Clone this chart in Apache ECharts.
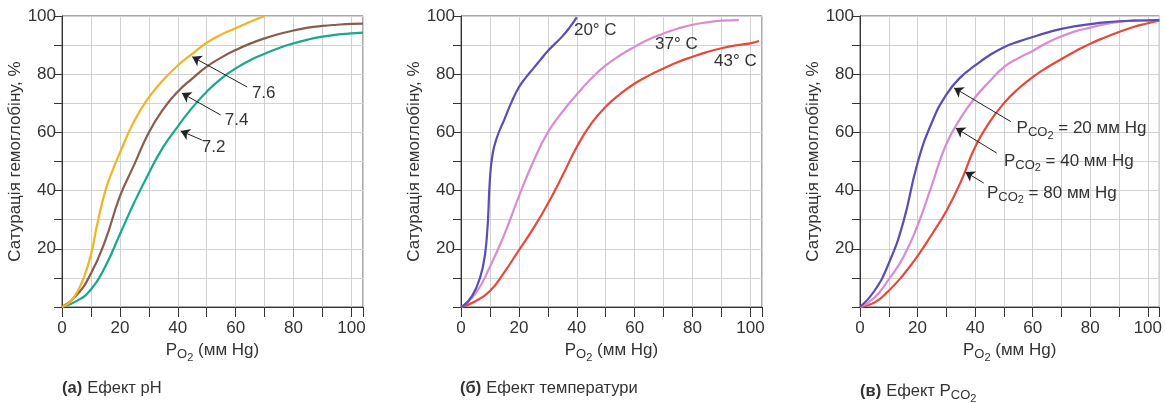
<!DOCTYPE html>
<html>
<head>
<meta charset="utf-8">
<title>Криві дисоціації оксигемоглобіну</title>
<script src="https://cdn.jsdelivr.net/npm/echarts@6/dist/echarts.min.js"></script>
<style>
  html, body { margin: 0; padding: 0; background: #fff; }
  #chart { width: 1165px; height: 403px; }
</style>
</head>
<body>
<div id="chart"></div>
<script>
// (а) ефект pH
const ph76_x = [0, 2.5, 5, 7.5, 10, 12.5, 15, 17.5, 20, 25, 30, 35, 40, 45, 50, 55, 60, 65, 70]
const ph76_y = [0, 1.5, 4.7, 10, 18, 30, 40, 47, 53, 64, 72, 78, 83, 87, 90.8, 93.6, 95.8, 98, 100]
const ph_x = [0, 5, 10, 15, 20, 25, 30, 35, 40, 45, 50, 55, 60, 65, 70, 75, 80, 85, 90, 95, 100, 104]
const ph74_y = [0, 4, 11.5, 23, 38, 49, 60, 68, 74, 78.5, 82.6, 85.7, 88.3, 90.5, 92.3, 93.8, 95, 96, 96.6, 97, 97.3, 97.4]
const ph72_y = [0, 2, 6, 14, 25, 36, 46, 55, 62, 68.5, 74, 78.5, 82, 84.8, 87, 89, 90.6, 91.9, 92.9, 93.6, 94, 94.3]

// (б) ефект температури
const t20_x = [0, 2.5, 5, 7.5, 9, 10, 11, 12.5, 15, 17.5, 20, 22.5, 25, 27.5, 30, 32.5, 35, 37.5, 40]
const t20_y = [0, 2, 6, 13.5, 25, 44, 53, 58.5, 64.5, 70.5, 75.5, 79, 82, 85, 88, 90.5, 93, 96, 99.5]
const t37_x = [0, 5, 10, 15, 20, 25, 30, 35, 40, 45, 50, 55, 60, 65, 70, 75, 80, 85, 90, 96]
const t37_y = [0, 4.6, 13.8, 25, 38, 50, 60, 67, 73, 78.5, 83, 86.5, 89.4, 92, 94, 95.7, 97, 97.8, 98.4, 98.6]
const t43_x = [0, 5, 10, 15, 20, 25, 30, 35, 40, 45, 50, 55, 60, 65, 70, 75, 80, 85, 90, 95, 100, 103]
const t43_y = [0, 2, 5.5, 12, 19.5, 27, 35.5, 45, 55, 63, 68.8, 73.2, 76.8, 79.6, 82, 84.2, 86, 87.6, 88.9, 89.9, 90.6, 91.4]

// (в) ефект PCO2
const co_x = [0, 5, 10, 15, 20, 25, 30, 35, 40, 45, 50, 55, 60, 65, 70, 75, 80, 85, 90, 95, 100, 104]
const co20_y = [0, 5.5, 15, 29, 49.5, 63.5, 73, 79, 83, 86.5, 89.3, 91.2, 92.8, 94.3, 95.6, 96.5, 97.2, 97.8, 98.2, 98.4, 98.5, 98.6]
const co40_y = [0, 3.2, 9.5, 17, 28, 42, 56, 65, 72, 77.5, 82.4, 85.5, 88, 90.8, 93, 94.8, 96, 97.2, 98, 98.4, 98.5, 98.6]
const co80_y = [0, 1.5, 5.6, 11, 17.5, 25, 33, 43, 55, 63.5, 70, 75, 79, 82.3, 85.2, 88, 90.5, 92.6, 94.5, 96.2, 97.5, 98.5]

// tick labels
const xLabels = [0, 20, 40, 60, 80, 100]
const yLabels = [20, 40, 60, 80, 100]

// стрілки й підписи (координати даних)
const arrowsA = [[[64, 75.6], [45, 86]], [[54.8, 66], [41.4, 73.5]], [[48.3, 57.4], [41, 60.5]]]
const notesA = [['7.6', 69.7, 73.5], ['7.4', 60.3, 64.3], ['7.2', 52.4, 55]]
const notesB = [['20° C', 46.4, 95.2], ['37° C', 74.4, 90.4], ['43° C', 94.8, 84.5]]
const arrowsC = [[[52.4, 63.7], [32.7, 75.3]], [[47.5, 52.9], [33.3, 61.5]], [[43, 42.6], [36.6, 46.4]]]
const notesC = [['20', 54.4, 61.5], ['40', 50, 50.2], ['80', 44.1, 39.2]]

const font = "Liberation Sans"
const ink = '#333'
const sub = {
  p: { fontSize: 17, color: ink, fontFamily: font },
  s: { fontSize: 13, color: ink, fontFamily: font, padding: [9, 0, 0, 0] },
  s2: { fontSize: 11, color: ink, fontFamily: font, padding: [15, 0, 0, 0] },
  b: { fontSize: 16.5, color: ink, fontFamily: font, fontWeight: 'bold' },
  t: { fontSize: 16.5, color: ink, fontFamily: font, fontWeight: 'normal' },
  tp: { fontSize: 17, color: ink, fontFamily: font, fontWeight: 'normal' },
  ts: { fontSize: 13, color: ink, fontFamily: font, fontWeight: 'normal', padding: [8, 0, 0, 0] },
  ts2: { fontSize: 11, color: ink, fontFamily: font, fontWeight: 'normal', padding: [14, 0, 0, 0] }
}
const pco2 = '{p|P}{s|CO}{s2|2}'

const grids = [
  { left: 62, top: 16, width: 301, height: 291 },
  { left: 461, top: 16, width: 301, height: 291 },
  { left: 860, top: 16, width: 302, height: 291 }
]

function pairs(xs, ys) {
  return xs.map((x, i) => [x, ys[i]])
}

function xAxis(i) {
  return {
    gridIndex: i, type: 'value', min: 0, max: 104, interval: 10,
    name: '{p|P}{s|O}{s2|2}{p| (мм Hg)}', nameLocation: 'middle', nameGap: 30,
    nameTextStyle: { rich: sub },
    axisLine: { lineStyle: { color: ink, width: 1 } },
    axisTick: { show: true, length: 10, lineStyle: { color: ink } },
    axisLabel: {
      color: ink, fontSize: 17, fontFamily: font, margin: 13,
      formatter: v => xLabels.includes(v) ? String(v) : ''
    },
    splitLine: { show: true, lineStyle: { color: '#d2d2d2', width: 1 } }
  }
}

function yAxis(i) {
  return {
    gridIndex: i, type: 'value', min: 0, max: 100, interval: 10,
    name: 'Сатурація гемоглобіну, %', nameLocation: 'middle', nameGap: 38,
    nameTextStyle: { color: ink, fontSize: 17, fontFamily: font },
    axisLine: { show: true, lineStyle: { color: ink, width: 1 } },
    axisTick: { show: true, length: 8, lineStyle: { color: ink } },
    axisLabel: {
      color: ink, fontSize: 17, fontFamily: font, margin: 6,
      formatter: v => yLabels.includes(v) ? String(v) : ''
    },
    splitLine: { show: true, lineStyle: { color: '#d2d2d2', width: 1 } }
  }
}

function curve(i, xs, ys, color) {
  return {
    type: 'line', xAxisIndex: i, yAxisIndex: i, data: pairs(xs, ys),
    smooth: 0.5, showSymbol: false,
    lineStyle: { color: color, width: 2.2 }, silent: true
  }
}

function arrows(list) {
  return {
    silent: true, symbol: ['none', 'arrow'], symbolSize: 9,
    lineStyle: { color: '#222', width: 1, type: 'solid' }, label: { show: false },
    data: list.map(a => [{ coord: a[0] }, { coord: a[1] }])
  }
}

function notes(list, pos, fmt) {
  return {
    silent: true, symbol: 'circle', symbolSize: 0,
    label: { show: true, position: pos, distance: 0, color: ink, fontSize: 17, fontFamily: font, rich: sub, formatter: fmt },
    data: list.map(n => ({ name: n[0], coord: [n[1], n[2]] }))
  }
}

const series = [
  curve(0, ph_x, ph72_y, '#18a88a'),
  curve(0, ph_x, ph74_y, '#8a5c4c'),
  Object.assign(curve(0, ph76_x, ph76_y, '#f2b423'), {
    markLine: arrows(arrowsA), markPoint: notes(notesA, 'inside', p => p.name)
  }),
  curve(1, t43_x, t43_y, '#e8473b'),
  curve(1, t37_x, t37_y, '#d98cd2'),
  Object.assign(curve(1, t20_x, t20_y, '#5a4db3'), {
    markPoint: notes(notesB, 'inside', p => p.name)
  }),
  curve(2, co_x, co80_y, '#e8473b'),
  curve(2, co_x, co40_y, '#d98cd2'),
  Object.assign(curve(2, co_x, co20_y, '#5a4db3'), {
    markLine: arrows(arrowsC),
    markPoint: notes(notesC, 'right', p => pco2 + '{p| = ' + p.name + ' мм Hg}')
  })
]

const titles = [
  { left: 62, text: '{b|(а)} {t|Ефект рН}' },
  { left: 460, text: '{b|(б)} {t|Ефект температури}' },
  { left: 860, text: '{b|(в)} {t|Ефект }{tp|P}{ts|CO}{ts2|2}' }
].map(t => ({ left: t.left, top: 379, padding: 0, text: t.text, textStyle: { fontWeight: 'normal', rich: sub } }))

const chart = echarts.init(document.getElementById('chart'))
chart.setOption({
  animation: false,
  backgroundColor: '#fff',
  title: titles,
  grid: grids.map(g => Object.assign({ show: true, borderColor: '#555', borderWidth: 1 }, g)),
  xAxis: [0, 1, 2].map(xAxis),
  yAxis: [0, 1, 2].map(yAxis),
  series: series
})
</script>
</body>
</html>
